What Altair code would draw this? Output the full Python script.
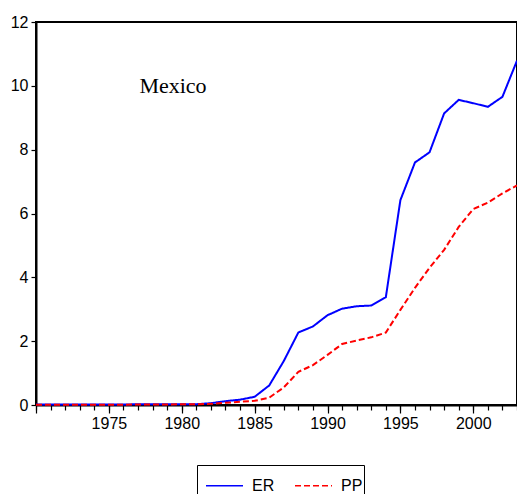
import altair as alt
import pandas as pd

years = list(range(1970, 2004))
er = [0.0125, 0.0125, 0.0125, 0.0125, 0.0125, 0.0125, 0.0154, 0.0226, 0.0228, 0.0228,
      0.0230, 0.0245, 0.0564, 0.120, 0.168, 0.257, 0.612, 1.378, 2.273, 2.461,
      2.813, 3.018, 3.095, 3.116, 3.375, 6.419, 7.599, 7.918, 9.136, 9.560,
      9.456, 9.342, 9.656, 10.789]
pp = [0.006, 0.006, 0.007, 0.008, 0.009, 0.010, 0.011, 0.014, 0.016, 0.018,
      0.021, 0.025, 0.037, 0.068, 0.105, 0.13, 0.23, 0.55, 1.04, 1.25,
      1.57, 1.91, 2.02, 2.12, 2.27, 2.98, 3.67, 4.30, 4.86, 5.58,
      6.14, 6.34, 6.63, 6.88]
series_names = ["ER", "PP"]
series_colors = ["#0000ff", "#ff0000"]
x_major_ticks = [1970, 1975, 1980, 1985, 1990, 1995, 2000]
y_ticks = [0, 2, 4, 6, 8, 10, 12]
title_text = "Mexico"
title_pos = (1979.4, 10.0)

df = pd.DataFrame({
    "year": years * 2,
    "value": er + pp,
    "series": ["ER"] * len(years) + ["PP"] * len(years),
})

xscale = alt.Scale(domain=[1970, 2003], nice=False, zero=False)
yscale = alt.Scale(domain=[0, 12], nice=False, zero=False)

yaxis = alt.Axis(
    values=y_ticks, grid=False, tickSize=5, tickColor="#000", tickWidth=1.2,
    domainColor="#000", domainWidth=2,
    labelFont="Liberation Sans", labelFontSize=16, labelColor="#000",
    labelPadding=3, labelOverlap=False, labelFlush=False,
)

legend = alt.Legend(
    title=None, orient="none", legendX=161, legendY=443, direction="horizontal",
    symbolType="stroke", symbolSize=1369, symbolStrokeWidth=1.6, symbolOffset=7,
    labelFont="Liberation Sans", labelFontSize=16, labelColor="#000", labelOffset=8,
    columnPadding=12, padding=1, strokeColor="#000", fillColor="#fff",
)

lines = alt.Chart(df).mark_line(strokeWidth=2).encode(
    x=alt.X("year:Q", scale=xscale, title=None, axis=alt.Axis(
        orient="bottom", values=x_major_ticks, format="d", grid=False, tickSize=8,
        labelExpr="datum.value === 1970 ? '' : datum.label",
        tickColor="#000", tickWidth=1.2, domainColor="#000", domainWidth=2,
        labelFont="Liberation Sans", labelFontSize=16, labelColor="#000",
        labelPadding=2, labelOverlap=False, labelFlush=False,
    )),
    y=alt.Y("value:Q", scale=yscale, title=None, axis=yaxis),
    color=alt.Color("series:N", scale=alt.Scale(domain=series_names, range=series_colors), legend=legend),
    strokeDash=alt.StrokeDash("series:N", scale=alt.Scale(domain=series_names, range=[[1, 0], [6, 3]]), legend=legend),
)

tdf = pd.DataFrame({"x": [title_pos[0]], "y": [title_pos[1]], "t": [title_text]})
label = alt.Chart(tdf).mark_text(
    font="Liberation Serif", fontSize=22, color="#000", align="center", baseline="middle"
).encode(
    x=alt.X("x:Q", scale=xscale, title=None, axis=alt.Axis(
        orient="bottom", values=years, labels=False, domain=False, grid=False, tickSize=5,
        tickColor="#000", tickWidth=1.2)),
    y=alt.Y("y:Q", scale=yscale, title=None, axis=yaxis),
    text="t:N",
)

chart = alt.layer(lines, label).resolve_axis(x="independent").properties(
    width=481, height=383,
    autosize=alt.AutoSizeParams(type="none"),
    padding={"left": 28, "top": 14, "right": 0, "bottom": 89},
).configure(
    background="#fff",
    view=alt.ViewConfig(stroke="#000", strokeWidth=2),
)

chart.save("out.html", embed_options={"renderer": "svg", "actions": False})
